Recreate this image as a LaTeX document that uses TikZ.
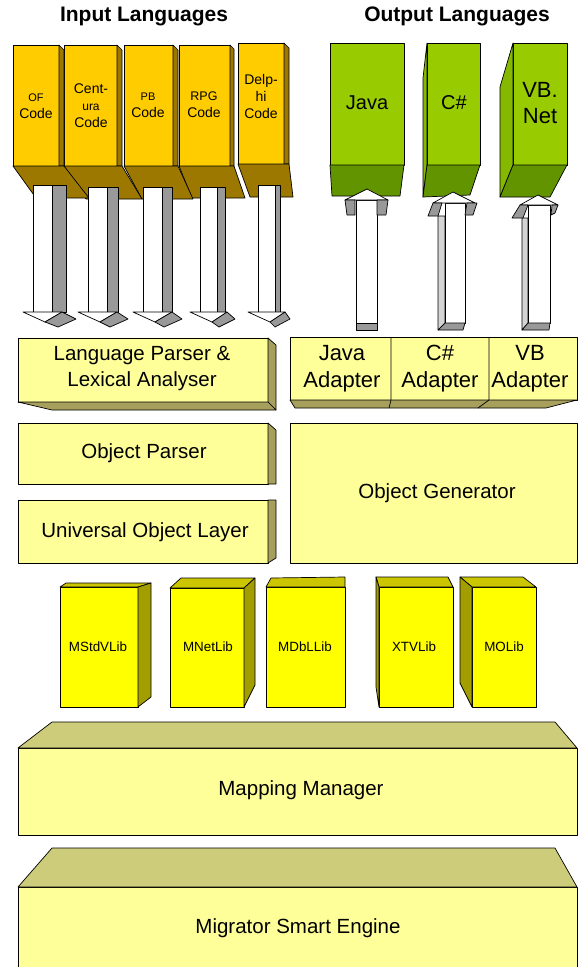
\documentclass[tikz,border=0pt]{standalone}
\usepackage{fontspec}
\setmainfont{Liberation Sans}
\definecolor{inFront}{HTML}{FFCC00}
\definecolor{inSide}{HTML}{9C7800}
\definecolor{outFront}{HTML}{99CC00}
\definecolor{outSide}{HTML}{86B800}
\definecolor{outDark}{HTML}{629400}
\definecolor{boxFront}{HTML}{FFFF99}
\definecolor{boxSide}{HTML}{A6A05C}
\definecolor{boxTop}{HTML}{CCCC7A}
\definecolor{libFront}{HTML}{FFFF00}
\definecolor{libSide}{HTML}{A39E00}
\definecolor{libTop}{HTML}{CCC600}
\definecolor{arrGray}{HTML}{999999}
\definecolor{arrLight}{HTML}{D4D4D4}

\begin{document}
\begin{tikzpicture}[x=1pt,y=-1pt,line join=round,
  face/.style={draw=black,line width=0.7pt},
  inface/.style={face,fill=inFront}, inshade/.style={face,fill=inSide},
  outface/.style={face,fill=outFront}, outshade/.style={face,fill=outSide}, outdark/.style={face,fill=outDark},
  boxface/.style={face,fill=boxFront}, boxshade/.style={face,fill=boxSide}, boxtop/.style={face,fill=boxTop},
  libface/.style={face,fill=libFront}, libshade/.style={face,fill=libSide}, libtop/.style={face,fill=libTop},
  shaft/.style={face,fill=white}, shaftgray/.style={face,fill=arrGray}, shaftlight/.style={face,fill=arrLight},
  title/.style={font=\fontsize{21}{24}\selectfont\bfseries,inner sep=0pt},
  inlbl/.style={font=\fontsize{14}{17}\selectfont,align=center,inner sep=0pt},
  outlbl/.style={font=\fontsize{20}{26}\selectfont,align=center,inner sep=0pt},
  boxlbl/.style={font=\fontsize{20.5}{26}\selectfont,align=center,inner sep=0pt},
  adlbl/.style={font=\fontsize{22}{27}\selectfont,align=center,inner sep=0pt},
  liblbl/.style={font=\fontsize{13.4}{16}\selectfont,inner sep=0pt}]
\useasboundingbox (0,0) rectangle (578,967);

\node[title] (inlang) at (144,16) {Input Languages};
\node[title] (outlang) at (457,16) {Output Languages};

\filldraw[inface] (238,43) rectangle (284,164);
\filldraw[inshade] (284,43) -- (289,48) -- (289,164) -- (284,164) -- cycle;
\filldraw[inshade] (238,164) -- (289,164) -- (293,197) -- (250,197) -- cycle;
\filldraw[inface] (179,45) rectangle (230,166);
\filldraw[inshade] (230,45) -- (234,49) -- (234,166) -- (230,166) -- cycle;
\filldraw[inshade] (179,166) -- (234,166) -- (245,198) -- (192,198) -- cycle;
\filldraw[inface] (124,45) rectangle (173,166);
\filldraw[inshade] (173,45) -- (178,50) -- (178,166) -- (173,166) -- cycle;
\filldraw[inshade] (124,166) -- (178,166) -- (193,199) -- (142,199) -- cycle;
\filldraw[inface] (64,45) rectangle (117,166);
\filldraw[inshade] (117,45) -- (122,50) -- (122,166) -- (117,166) -- cycle;
\filldraw[inshade] (64,166) -- (122,166) -- (142,199) -- (86,199) -- cycle;
\filldraw[inface] (13,45) rectangle (59,166);
\filldraw[inshade] (59,45) -- (64,50) -- (64,166) -- (59,166) -- cycle;
\filldraw[inshade] (13,166) -- (64,166) -- (89,198) -- (36,198) -- cycle;

\node[inlbl] (ofcode) at (36,106) {{\fontsize{11}{17}\selectfont OF}\\Code};
\node[inlbl] (centura) at (91,106) {Cent-\\{\fontsize{12}{17}\selectfont ura}\\Code};
\node[inlbl] (pbcode) at (148,105) {{\fontsize{11}{17}\selectfont PB}\\Code};
\node[inlbl] (rpgcode) at (204,105) {{\fontsize{12.5}{17}\selectfont RPG}\\Code};
\node[inlbl] (delphi) at (261,96) {Delp-\\hi\\Code};

\filldraw[shaft] (33,185) rectangle (52,312);
\filldraw[shaftgray] (52,185) rectangle (66,312);
\filldraw[shaft] (23,312) -- (62,312) -- (45,322) -- cycle;
\filldraw[shaftgray] (45,322) -- (58,327) -- (76,319) -- (62,312) -- cycle;
\filldraw[shaft] (88,187) rectangle (107,312);
\filldraw[shaftgray] (107,187) rectangle (118,312);
\filldraw[shaft] (78,312) -- (117,312) -- (100,322) -- cycle;
\filldraw[shaftgray] (100,322) -- (110,327) -- (128,319) -- (117,312) -- cycle;
\filldraw[shaft] (143,187) rectangle (162,312);
\filldraw[shaftgray] (162,187) rectangle (172,312);
\filldraw[shaft] (133,312) -- (172,312) -- (155,322) -- cycle;
\filldraw[shaftgray] (155,322) -- (164,327) -- (182,319) -- (172,312) -- cycle;
\filldraw[shaft] (200,187) rectangle (217,312);
\filldraw[shaftgray] (217,187) rectangle (225,312);
\filldraw[shaft] (190,312) -- (227,312) -- (212,322) -- cycle;
\filldraw[shaftgray] (212,322) -- (219,327) -- (235,319) -- (227,312) -- cycle;
\filldraw[shaft] (258,185) rectangle (275,312);
\filldraw[shaftgray] (275,185) rectangle (280,312);
\filldraw[shaft] (248,312) -- (285,312) -- (270,322) -- cycle;
\filldraw[shaftgray] (270,322) -- (275,327) -- (290,319) -- (285,312) -- cycle;

\filldraw[outface] (330,43) rectangle (404,165);
\filldraw[outdark] (330,165) -- (404,165) -- (400,196) -- (332,196) -- cycle;
\filldraw[outface] (427,43) rectangle (480,165);
\filldraw[outshade] (427,43) -- (423,78) -- (423,197) -- (427,165) -- cycle;
\filldraw[outdark] (427,165) -- (480,165) -- (470,195) -- (423,197) -- cycle;
\filldraw[outface] (513,43) rectangle (567,165);
\filldraw[outshade] (513,43) -- (500,87) -- (500,197) -- (513,165) -- cycle;
\filldraw[outdark] (513,165) -- (567,165) -- (550,197) -- (500,197) -- cycle;

\node[outlbl] (java) at (367,103) {Java};
\node[outlbl] (csharp) at (454,103) {C\#};
\node[outlbl,font=\fontsize{22}{26}\selectfont] (vbnet) at (540,103) {VB.\\Net};

\filldraw[shaft] (356,200) rectangle (377,323);
\filldraw[shaftgray] (356,323) rectangle (377,330);
\filldraw[shaft] (345,200) -- (367,189) -- (388,200) -- cycle;
\filldraw[shaftgray] (345,200) -- (355,200) -- (355,215) -- (347,215) -- cycle;
\filldraw[shaftgray] (377,200) -- (388,200) -- (386,215) -- (377,215) -- cycle;
\filldraw[shaftlight] (438,216) -- (445,216) -- (445,323) -- (438,330) -- cycle;
\filldraw[shaft] (445,203) rectangle (465,323);
\filldraw[shaftgray] (445,323) -- (465,323) -- (463,330) -- (438,330) -- cycle;
\filldraw[shaft] (433,203) -- (453,192) -- (475,203) -- cycle;
\filldraw[shaftgray] (433,203) -- (442,203) -- (438,216) -- (428,216) -- cycle;
\filldraw[shaftgray] (467,203) -- (477,203) -- (473,215) -- (465,215) -- cycle;
\filldraw[shaftlight] (522,218) -- (528,218) -- (528,323) -- (522,330) -- cycle;
\filldraw[shaft] (528,205) rectangle (550,323);
\filldraw[shaftgray] (528,323) -- (550,323) -- (549,330) -- (522,330) -- cycle;
\filldraw[shaft] (520,205) -- (538,195) -- (558,205) -- cycle;
\filldraw[shaftgray] (520,205) -- (528,205) -- (523,218) -- (512,218) -- cycle;
\filldraw[shaftgray] (552,205) -- (558,205) -- (555,213) -- (551,215) -- cycle;

\filldraw[boxface] (18,338) rectangle (268,402);
\filldraw[boxshade] (268,338) -- (276,345) -- (276,410) -- (268,402) -- cycle;
\filldraw[boxshade] (18,402) -- (268,402) -- (276,410) -- (52,410) -- cycle;
\node[boxlbl] (lexer) at (142,369) {Language Parser \&\\Lexical Analyser};

\filldraw[boxface] (290,337) rectangle (577,400);
\filldraw[boxshade] (290,400) -- (577,400) -- (546,408) -- (295,408) -- cycle;
\draw[face] (391,337) -- (391,400) -- (389,408);
\draw[face] (489,337) -- (489,400) -- (478,408);
\node[adlbl] (javaad) at (342,369) {Java\\Adapter};
\node[adlbl] (csad) at (440,369) {C\#\\Adapter};
\node[adlbl] (vbad) at (530,369) {VB\\Adapter};

\filldraw[boxface] (18,423) rectangle (268,484);
\filldraw[boxshade] (268,423) -- (276,430) -- (276,484) -- (268,484) -- cycle;
\node[boxlbl] (objparser) at (144,453) {Object Parser};
\filldraw[boxface] (18,500) rectangle (268,563);
\filldraw[boxshade] (268,500) -- (276,500) -- (276,558) -- (268,563) -- cycle;
\node[boxlbl] (uol) at (145,532) {Universal Object Layer};
\filldraw[boxface] (290,423) rectangle (577,563);
\node[boxlbl] (objgen) at (437,493) {Object Generator};

\filldraw[libface] (60,587) rectangle (138,707);
\filldraw[libtop] (60,587) -- (66,583) -- (151,583) -- (138,587) -- cycle;
\filldraw[libshade] (138,587) -- (151,583) -- (151,697) -- (138,707) -- cycle;
\node[liblbl] (mstdvlib) at (98,647) {MStdVLib};
\filldraw[libface] (170,588) rectangle (244,707);
\filldraw[libtop] (170,588) -- (181,578) -- (255,578) -- (244,588) -- cycle;
\filldraw[libshade] (244,588) -- (255,578) -- (255,685) -- (244,707) -- cycle;
\node[liblbl] (mnetlib) at (208,647) {MNetLib};
\filldraw[libface] (266,587) rectangle (345,707);
\filldraw[libtop] (266,587) -- (271,578) -- (345,577) -- (345,587) -- cycle;
\node[liblbl] (mdbllib) at (305,647) {MDbLLib};
\filldraw[libface] (379,587) rectangle (453,707);
\filldraw[libtop] (376,577) -- (448,577) -- (453,587) -- (379,587) -- cycle;
\filldraw[libshade] (376,577) -- (379,587) -- (379,707) -- (376,687) -- cycle;
\node[liblbl] (xtvlib) at (414,647) {XTVLib};
\filldraw[libface] (472,587) rectangle (536,707);
\filldraw[libtop] (460,577) -- (523,577) -- (536,587) -- (472,587) -- cycle;
\filldraw[libshade] (460,577) -- (472,587) -- (472,707) -- (460,683) -- cycle;
\node[liblbl] (molib) at (504,647) {MOLib};

\filldraw[boxface] (18,748) rectangle (577,835);
\filldraw[boxtop] (18,748) -- (52,722) -- (555,722) -- (577,748) -- cycle;
\node[boxlbl] (mapping) at (301,790) {Mapping Manager};
\filldraw[boxface] (18,887) rectangle (577,980);
\filldraw[boxtop] (18,887) -- (52,848) -- (555,848) -- (577,887) -- cycle;
\node[boxlbl] (engine) at (298,928) {Migrator Smart Engine};
\end{tikzpicture}
\end{document}
